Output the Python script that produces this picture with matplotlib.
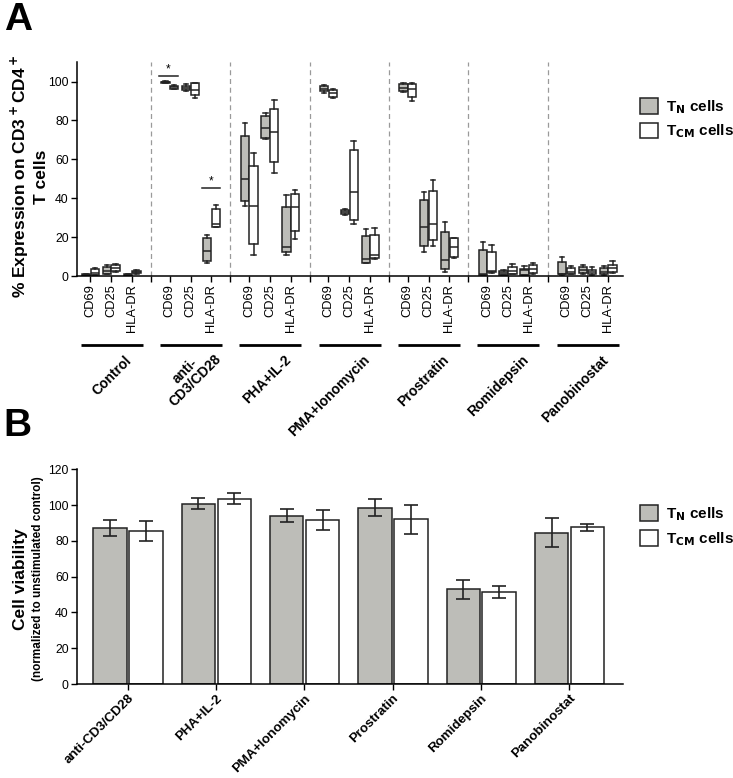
import matplotlib
matplotlib.use("Agg")
import matplotlib.pyplot as plt
import matplotlib.transforms as mtransforms
from matplotlib.patches import Patch
import numpy as np

plt.rcParams['font.family'] = ['Liberation Sans', 'DejaVu Sans']

# ---------------- data: panel A ----------------
groups_a = ["Control", "anti-\nCD3/CD28", "PHA+IL-2", "PMA+Ionomycin",
            "Prostratin", "Romidepsin", "Panobinostat"]
markers = ["CD69", "CD25", "HLA-DR"]

# T_N cells (grey): per group x marker
tn_min = [0.0, 0.8, 0.1, 99.3, 95.0, 6.5, 36.0, 70.3, 10.9, 94.0, 31.6, 6.5,
          94.4, 12.6, 2.2, 0.3, 0.3, 0.3, 0.5, 1.0, 0.6]
tn_q1 = [0.2, 1.0, 0.2, 99.5, 95.5, 7.8, 38.6, 70.8, 12.1, 95.1, 32.0, 6.5,
         94.9, 15.5, 3.6, 0.5, 0.5, 0.5, 0.9, 1.4, 0.9]
tn_med = [0.5, 2.7, 0.5, 99.7, 96.6, 13.0, 50.0, 76.3, 15.0, 96.4, 33.0, 9.0,
          96.9, 25.2, 8.2, 1.0, 1.5, 3.0, 1.0, 3.0, 2.0]
tn_q3 = [0.9, 4.8, 1.0, 99.9, 97.8, 19.8, 72.2, 82.3, 35.3, 97.8, 34.0, 20.5,
         98.7, 38.9, 22.7, 13.3, 2.7, 3.8, 7.3, 4.8, 3.9]
tn_max = [1.2, 5.6, 1.2, 100.2, 98.5, 21.3, 78.9, 84.0, 41.8, 98.3, 34.3, 24.2,
          99.5, 43.2, 27.6, 17.6, 3.0, 5.1, 9.9, 5.6, 5.0]

# T_CM cells (white)
tcm_min = [0.5, 2.2, 1.2, 96.0, 91.5, 25.2, 10.9, 53.1, 19.1, 91.5, 26.6, 9.0,
           90.1, 15.5, 9.5, 1.5, 0.8, 1.0, 0.8, 0.6, 1.8]
tcm_q1 = [0.5, 2.6, 1.4, 96.4, 93.2, 25.3, 16.7, 58.7, 23.4, 92.2, 28.8, 9.4,
          91.8, 18.3, 9.6, 1.9, 1.0, 1.4, 1.0, 0.9, 2.2]
tcm_med = [1.8, 4.1, 2.0, 97.0, 95.7, 27.0, 35.8, 74.0, 35.3, 94.3, 43.2, 10.8,
           96.1, 26.6, 15.0, 2.6, 2.5, 3.4, 2.3, 2.0, 4.0]
tcm_q3 = [3.4, 5.6, 2.7, 97.6, 99.0, 34.3, 56.5, 86.0, 42.0, 95.7, 64.9, 21.3,
          98.7, 43.7, 19.3, 12.4, 4.5, 5.6, 3.9, 3.1, 5.6]
tcm_max = [4.3, 6.0, 3.0, 98.0, 99.5, 36.7, 63.1, 90.3, 44.4, 96.0, 69.5, 24.7,
           99.0, 49.5, 19.5, 15.9, 6.0, 6.5, 5.0, 4.5, 7.7]

# ---------------- data: panel B ----------------
groups_b = ["anti-CD3/CD28", "PHA+IL-2", "PMA+Ionomycin", "Prostratin",
            "Romidepsin", "Panobinostat"]
tn_via = [87.4, 100.8, 94.1, 98.6, 52.9, 84.6]
tn_via_err = [4.5, 2.9, 3.6, 4.9, 5.3, 8.2]
tcm_via = [85.5, 103.6, 91.5, 92.0, 51.6, 87.6]
tcm_via_err = [5.4, 3.2, 5.7, 7.9, 3.4, 2.1]

GREY = '#bdbdb8'
EDGE = '#222222'

fig = plt.figure(figsize=(7.33, 7.78), dpi=100)

# ================= Panel A =================
axA = fig.add_axes([0.105, 0.6452, 0.745, 0.275])
offsets = [0.95, 2.0, 3.05]
gw = 4.0
pos = [g * gw + o for g in range(len(groups_a)) for o in offsets]
half = 0.22
bw = 0.42


def stats(mn, q1, md, q3, mx):
    return [dict(whislo=a, q1=b, med=c, q3=d, whishi=e)
            for a, b, c, d, e in zip(mn, q1, md, q3, mx)]


common = dict(widths=bw, showfliers=False, patch_artist=True,
              medianprops=dict(color=EDGE, lw=1.1),
              whiskerprops=dict(color=EDGE, lw=1.1),
              capprops=dict(color=EDGE, lw=1.1),
              capwidths=0.22)
axA.bxp(stats(tn_min, tn_q1, tn_med, tn_q3, tn_max),
        positions=[p - half for p in pos],
        boxprops=dict(facecolor=GREY, edgecolor=EDGE, lw=1.1), **common)
axA.bxp(stats(tcm_min, tcm_q1, tcm_med, tcm_q3, tcm_max),
        positions=[p + half for p in pos],
        boxprops=dict(facecolor='white', edgecolor=EDGE, lw=1.1), **common)

for g in range(1, len(groups_a)):
    axA.axvline(g * gw, color='#9a9a9a', ls=(0, (4, 3)), lw=0.9, zorder=0)

axA.set_xlim(0.27, 27.8)
axA.set_ylim(0, 110)
axA.set_yticks([0, 20, 40, 60, 80, 100])
axA.set_xticks(pos)
axA.set_xticklabels(markers * len(groups_a), rotation=90, fontsize=9.3)
axA.set_xticks([g * gw for g in range(1, len(groups_a))], minor=True)
axA.tick_params(axis='x', which='both', length=4, width=1, direction='out',
                pad=2)
axA.tick_params(axis='y', labelsize=8.8, length=4, width=1, pad=2)
for s in ['top', 'right']:
    axA.spines[s].set_visible(False)
for s in ['left', 'bottom']:
    axA.spines[s].set_linewidth(1.1)
axA.text(-0.088, 0.465, "% Expression on CD3$^{\\bf +}$CD4$^{\\bf +}$\nT cells",
         transform=axA.transAxes, rotation=90, ha='center', va='center',
         fontsize=12.5, fontweight='bold', multialignment='center')

# significance marks
axA.plot([4.4, 5.35], [103, 103], color=EDGE, lw=1.1, clip_on=False)
axA.text(4.87, 103.3, "*", ha='center', va='bottom', fontsize=8.5)
axA.plot([6.55, 7.5], [45.2, 45.2], color=EDGE, lw=1.1, clip_on=False)
axA.text(7.02, 45.5, "*", ha='center', va='bottom', fontsize=8.5)

# group bars and labels
trA = mtransforms.blended_transform_factory(axA.transData, axA.transAxes)
for g, name in enumerate(groups_a):
    x0 = g * gw
    axA.plot([x0 + 0.45, x0 + 3.58], [-0.322, -0.322], transform=trA,
             color='black', lw=2.0, clip_on=False, solid_capstyle='butt')
    dy = 0.05 if "\n" in name else 0.0
    axA.text(x0 + 2.68, -0.36 + dy, name, transform=trA, rotation=45,
             rotation_mode='anchor', ha='right', va='top', fontsize=10,
             fontweight='bold', multialignment='center', linespacing=0.95)

axA.legend([Patch(facecolor=GREY, edgecolor=EDGE, lw=1.1),
            Patch(facecolor='white', edgecolor=EDGE, lw=1.1)],
           ["T$_{\\bf N}$ cells", "T$_{\\bf CM}$ cells"],
           loc='upper left', bbox_to_anchor=(1.02, 0.86), frameon=False,
           prop=dict(size=11, weight='bold'), handlelength=1.2,
           handleheight=1.2, handletextpad=0.5, labelspacing=0.45,
           borderaxespad=0)

fig.text(0.005, 0.997, "A", fontsize=28, fontweight='bold', va='top', ha='left')

# ================= Panel B =================
axB = fig.add_axes([0.105, 0.1208, 0.745, 0.276])
xb = np.arange(len(groups_b))
bwb = 0.378
axB.bar(xb - 0.2, tn_via, width=bwb, color=GREY, edgecolor=EDGE, lw=1.1,
        yerr=tn_via_err, capsize=4.7,
        error_kw=dict(ecolor=EDGE, elinewidth=1.2, capthick=1.2))
axB.bar(xb + 0.207, tcm_via, width=bwb, color='white', edgecolor=EDGE, lw=1.1,
        yerr=tcm_via_err, capsize=4.7,
        error_kw=dict(ecolor=EDGE, elinewidth=1.2, capthick=1.2))
axB.set_xlim(-0.574, 5.61)
axB.set_ylim(0, 120)
axB.set_yticks([0, 20, 40, 60, 80, 100, 120])
axB.set_xticks(xb)
axB.set_xticklabels(groups_b, rotation=45, ha='right', rotation_mode='anchor',
                    fontsize=9.6, fontweight='bold')
axB.tick_params(axis='x', length=4, width=1, pad=2)
axB.tick_params(axis='y', labelsize=8.8, length=4, width=1, pad=2)
for s in ['top', 'right']:
    axB.spines[s].set_visible(False)
for s in ['left', 'bottom']:
    axB.spines[s].set_linewidth(1.1)
axB.text(-0.104, 0.49, "Cell viability", transform=axB.transAxes, rotation=90,
         ha='center', va='center', fontsize=12.5, fontweight='bold')
axB.text(-0.071, 0.49, "(normalized to unstimulated control)",
         transform=axB.transAxes, rotation=90, ha='center', va='center',
         fontsize=8.5, fontweight='bold')
axB.legend([Patch(facecolor=GREY, edgecolor=EDGE, lw=1.1),
            Patch(facecolor='white', edgecolor=EDGE, lw=1.1)],
           ["T$_{\\bf N}$ cells", "T$_{\\bf CM}$ cells"],
           loc='upper left', bbox_to_anchor=(1.02, 0.86), frameon=False,
           prop=dict(size=11, weight='bold'), handlelength=1.2,
           handleheight=1.2, handletextpad=0.5, labelspacing=0.45,
           borderaxespad=0)

fig.text(0.005, 0.475, "B", fontsize=28, fontweight='bold', va='top', ha='left')

fig.savefig("out.png", dpi=100)
